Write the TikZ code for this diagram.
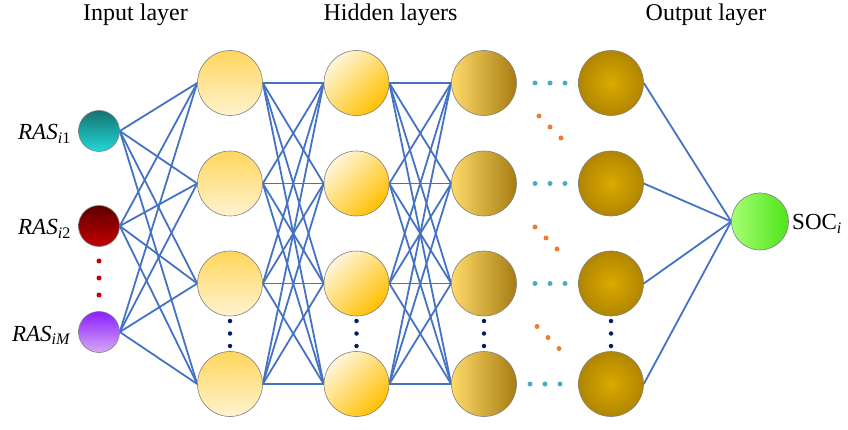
\documentclass[tikz,border=0pt]{standalone}
\usepackage{fontspec}
\setmainfont{Liberation Serif}
\usetikzlibrary{backgrounds}
\definecolor{linkblue}{HTML}{4472C4}
\definecolor{rimgray}{HTML}{7F7F7F}
\definecolor{navydot}{HTML}{002060}
\definecolor{cyandot}{HTML}{4BACC6}
\definecolor{orangedot}{HTML}{ED7D31}
\definecolor{tealtop}{HTML}{167272}
\definecolor{tealbot}{HTML}{22D8D8}
\definecolor{redtop}{HTML}{5C0000}
\definecolor{redbot}{HTML}{C40000}
\definecolor{purtop}{HTML}{8B1EFF}
\definecolor{purbot}{HTML}{D6A8F5}
\definecolor{hatop}{HTML}{FFD65C}
\definecolor{habot}{HTML}{FFF3D0}
\definecolor{hblight}{HTML}{FFF6DA}
\definecolor{hbdark}{HTML}{FFC000}
\definecolor{hcleft}{HTML}{FFDA6A}
\definecolor{hcright}{HTML}{A67C10}
\definecolor{hdin}{HTML}{DBA900}
\definecolor{hdout}{HTML}{B08600}
\definecolor{outleft}{HTML}{A6FF72}
\definecolor{outright}{HTML}{4EE41A}
\tikzset{
  neuron/.style={circle, draw=rimgray, line width=0.6pt, minimum size=65pt, inner sep=0pt},
  inneuron/.style={circle, draw=rimgray, line width=0.6pt, minimum size=41pt, inner sep=0pt},
  layA/.style={neuron, top color=hatop, bottom color=habot},
  layB/.style={neuron, shading=axis, top color=hblight, bottom color=hbdark, shading angle=45},
  layC/.style={neuron, left color=hcleft, right color=hcright},
  layD/.style={neuron, shading=radial, inner color=hdin, outer color=hdout},
  link/.style={draw=linkblue, line width=1.8pt},
  header/.style={font=\fontsize{24}{26}\selectfont, anchor=base},
  inlabel/.style={font=\fontsize{23}{25}\selectfont, anchor=base east, inner sep=0pt},
  navy/.style={fill=navydot, draw=none, circle, minimum size=4.5pt, inner sep=0pt},
  cdot/.style={fill=cyandot, draw=none, circle, minimum size=5pt, inner sep=0pt},
  odot/.style={fill=orangedot, draw=none, circle, minimum size=5pt, inner sep=0pt},
  rdot/.style={fill=redbot, draw=none, circle, minimum size=5pt, inner sep=0pt}
}
\begin{document}
\begin{tikzpicture}[x=1pt,y=-1pt]
\useasboundingbox (0,0) rectangle (848,430);
% headers
\node[header] (h1) at (135.5,21) {Input layer};
\node[header] (h2) at (390.5,21) {Hidden layers};
\node[header] (h3) at (706,21) {Output layer};
% input neurons
\node[inneuron, top color=tealtop, bottom color=tealbot] (i1) at (99,131) {};
\node[inneuron, top color=redtop, bottom color=redbot] (i2) at (99,226) {};
\node[inneuron, top color=purtop, bottom color=purbot] (i3) at (99,332) {};
\node[inlabel] (l1) at (71,140) {\textit{RAS}\textsubscript{\textit{i}1}};
\node[inlabel] (l2) at (71,235) {\textit{RAS}\textsubscript{\textit{i}2}};
\node[inlabel] (l3) at (71,341) {\textit{RAS}\textsubscript{\textit{iM}}};
\node[rdot] (r1) at (99,261) {};
\node[rdot] (r2) at (99,278) {};
\node[rdot] (r3) at (99,295) {};
% hidden layers
\foreach \r/\y in {1/83,2/183.5,3/283.5,4/384}{
  \node[layA] (a\r) at (230,\y) {};
  \node[layB] (b\r) at (356.5,\y) {};
  \node[layC] (c\r) at (484,\y) {};
  \node[layD] (d\r) at (611,\y) {};
}
% output
\node[circle, draw=rimgray, line width=0.6pt, minimum size=57pt, inner sep=0pt, left color=outleft, right color=outright] (o) at (760,221.5) {};
\node[font=\fontsize{23}{25}\selectfont, anchor=base west, inner sep=0pt] (ol) at (792,230) {SOC\textsubscript{\textit{i}}};
% vertical navy dots
\foreach \x/\n in {230/a,356.5/b,484/c,611/d}{
  \node[navy] (\n v1) at (\x,321) {};
  \node[navy] (\n v2) at (\x,333.5) {};
  \node[navy] (\n v3) at (\x,346) {};
}
% cyan dots
\foreach \r/\y/\s in {1/83/535,2/183.5/535,3/283.5/535,4/384/530}{
  \node[cdot] (cy\r a) at (\s,\y) {};
  \node[cdot] (cy\r b) at (\s+15,\y) {};
  \node[cdot] (cy\r c) at (\s+30,\y) {};
}
% orange dots
\foreach \k/\x/\y in {1/539/116,2/535/227,3/537/326.5}{
  \node[odot] (or\k a) at (\x,\y) {};
  \node[odot] (or\k b) at (\x+11,\y+11) {};
  \node[odot] (or\k c) at (\x+22,\y+22) {};
}
% links
\begin{scope}[on background layer]
\foreach \i in {1,2,3}{
  \foreach \j in {1,2,3,4}{
    \draw[link] (i\i.east) -- (a\j.west);
  }
}
\foreach \i in {1,2,3,4}{
  \foreach \j in {1,2,3,4}{
    \draw[link] (a\i.east) -- (b\j.west);
    \draw[link] (b\i.east) -- (c\j.west);
  }
  \draw[link] (d\i.east) -- (o.west);
}
\end{scope}
\end{tikzpicture}
\end{document}
